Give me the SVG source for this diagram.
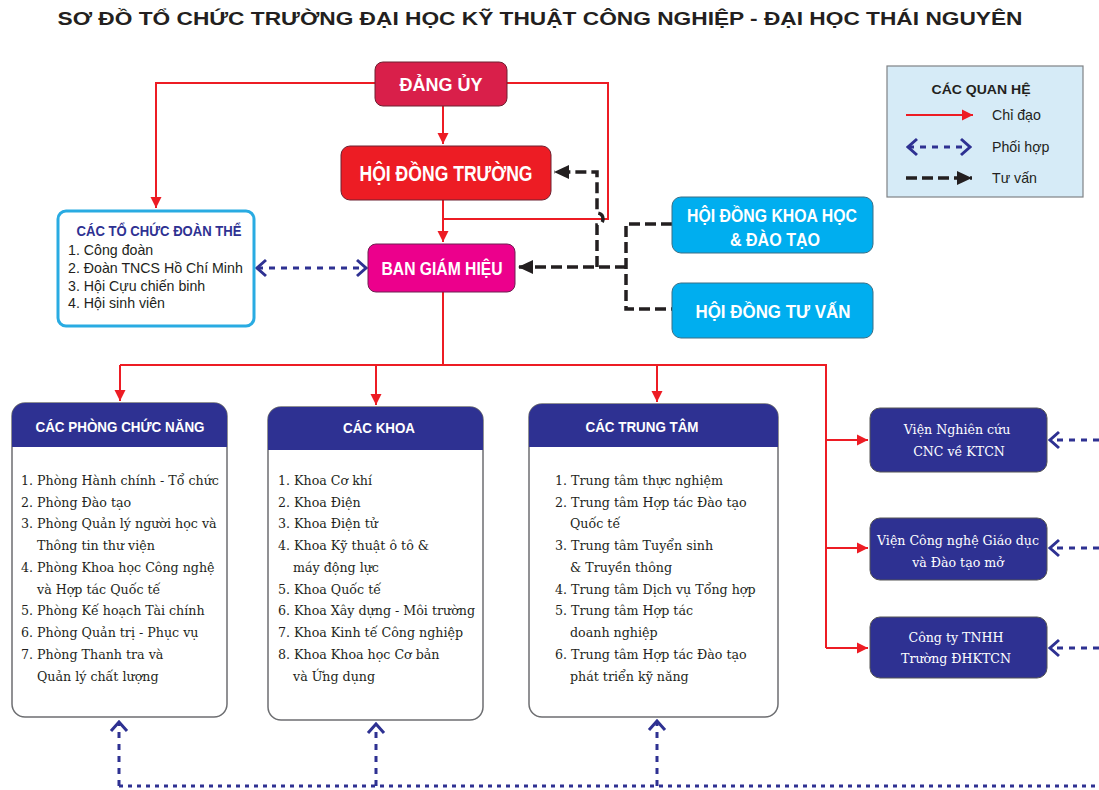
<svg xmlns="http://www.w3.org/2000/svg" width="1099" height="790" viewBox="0 0 1099 790">
<style>
.bg{fill:#ffffff}
.title{font-family:"Liberation Sans",Arial,sans-serif;font-weight:bold;font-size:19px;fill:#231f20}
.hb{font-family:"Liberation Sans",Arial,sans-serif;font-weight:bold;fill:#ffffff;text-anchor:middle}
.item{font-family:"DejaVu Serif",serif;font-size:12.65px;fill:#231f20}
.wit{font-family:"DejaVu Serif",serif;font-size:12.6px;fill:#ffffff;text-anchor:middle}
.sans{font-family:"Liberation Sans",Arial,sans-serif;font-size:14.2px;fill:#231f20}
.r{stroke:#ed1c24;stroke-width:2;fill:none}
.b{stroke:#2e3192;stroke-width:3;stroke-dasharray:6 6;fill:none}
.bd{stroke:#2e3192;stroke-width:3;stroke-dasharray:4 5;fill:none}
.k{stroke:#231f20;stroke-width:3.5;stroke-dasharray:11 5;fill:none}
.box{fill:#ffffff;stroke:#6d6e71;stroke-width:1.5}
.hdr{fill:#2e3192}
</style>
<defs>
<marker id="ar" markerWidth="12" markerHeight="12" refX="11" refY="6" orient="auto" markerUnits="userSpaceOnUse"><path d="M0,0.5 L11,6 L0,11.5 Z" fill="#ed1c24"/></marker>
<marker id="ak" markerWidth="16" markerHeight="16" refX="15" refY="8" orient="auto" markerUnits="userSpaceOnUse"><path d="M0,1 L15,8 L0,15 Z" fill="#231f20"/></marker>
<marker id="ab" markerWidth="14" markerHeight="20" refX="12" refY="10" orient="auto-start-reverse" markerUnits="userSpaceOnUse"><path d="M3,2 L12,10 L3,18" fill="none" stroke="#2e3192" stroke-width="3"/></marker>
</defs>
<rect class="bg" x="0" y="0" width="1099" height="790"/>
<text class="title" x="540" y="25" text-anchor="middle" textLength="965" lengthAdjust="spacingAndGlyphs">SƠ ĐỒ TỔ CHỨC TRƯỜNG ĐẠI HỌC KỸ THUẬT CÔNG NGHIỆP - ĐẠI HỌC THÁI NGUYÊN</text>

<g id="connectors">
<path class="r" d="M375,83 H156 V208" marker-end="url(#ar)"/>
<path class="r" d="M507,83 H608 V219 H443"/>
<path class="r" d="M443,106 V144" marker-end="url(#ar)"/>
<path class="r" d="M443,200 V242" marker-end="url(#ar)"/>
<path class="r" d="M443,292 V365"/>
<path class="r" d="M120,365 H826 V648"/>
<path class="r" d="M120,365 V401" marker-end="url(#ar)"/>
<path class="r" d="M376,365 V405" marker-end="url(#ar)"/>
<path class="r" d="M657,365 V402" marker-end="url(#ar)"/>
<path class="r" d="M826,440 H868" marker-end="url(#ar)"/>
<path class="r" d="M826,548 H868" marker-end="url(#ar)"/>
<path class="r" d="M826,648 H868" marker-end="url(#ar)"/>
<path class="k" d="M626,267 H518" marker-end="url(#ak)"/>
<path class="k" d="M597,267 V225 A6,6 0 0 0 597,213 V172 H554" marker-end="url(#ak)"/>
<path class="k" d="M672,224 H626 V309 H672"/>
<path class="b" d="M257,268 H366" marker-start="url(#ab)" marker-end="url(#ab)"/>
<path class="b" d="M1099,440 H1050" marker-end="url(#ab)"/>
<path class="b" d="M1099,548 H1050" marker-end="url(#ab)"/>
<path class="b" d="M1099,648 H1050" marker-end="url(#ab)"/>
<path class="bd" d="M119,786 H1099"/>
<path class="b" d="M119,786 V722" marker-end="url(#ab)"/>
<path class="b" d="M376,786 V724" marker-end="url(#ab)"/>
<path class="b" d="M657,786 V721" marker-end="url(#ab)"/>
</g>

<g id="dang-uy">
<rect x="375" y="62" width="132" height="44" rx="8" fill="#d91f4a" stroke="#6d2030" stroke-width="1"/>
<text class="hb" x="441" y="91" font-size="18">ĐẢNG ỦY</text>
</g>
<g id="hoi-dong-truong">
<rect x="341" y="146" width="210" height="54" rx="9" fill="#ed1c24" stroke="#6d2030" stroke-width="1"/>
<text class="hb" x="446" y="181" font-size="22" textLength="173" lengthAdjust="spacingAndGlyphs">HỘI ĐỒNG TRƯỜNG</text>
</g>
<g id="ban-giam-hieu">
<rect x="368" y="244" width="147" height="48" rx="8" fill="#ec008c" stroke="#6d2050" stroke-width="1"/>
<text class="hb" x="442" y="275" font-size="18" textLength="121" lengthAdjust="spacingAndGlyphs">BAN GIÁM HIỆU</text>
</g>
<g id="hd-khoa-hoc">
<rect x="672" y="197" width="201" height="56" rx="9" fill="#00aeef" stroke="#3a6f85" stroke-width="1"/>
<text class="hb" x="772" y="222" font-size="19" textLength="170" lengthAdjust="spacingAndGlyphs">HỘI ĐỒNG KHOA HỌC</text>
<text class="hb" x="775" y="246" font-size="19" textLength="90" lengthAdjust="spacingAndGlyphs">&amp; ĐÀO TẠO</text>
</g>
<g id="hd-tu-van">
<rect x="672" y="283" width="201" height="55" rx="9" fill="#00aeef" stroke="#3a6f85" stroke-width="1"/>
<text class="hb" x="773" y="318" font-size="19" textLength="155" lengthAdjust="spacingAndGlyphs">HỘI ĐỒNG TƯ VẤN</text>
</g>

<g id="legend">
<rect x="887" y="66" width="196" height="131" fill="#d6ebf7" stroke="#7f8285" stroke-width="1.2"/>
<text x="981" y="94" text-anchor="middle" font-family="Liberation Sans, Arial, sans-serif" font-weight="bold" font-size="13" fill="#231f20" textLength="99" lengthAdjust="spacingAndGlyphs">CÁC QUAN HỆ</text>
<path class="r" d="M906,115 H973" marker-end="url(#ar)"/>
<path class="b" d="M908,147 H970" marker-start="url(#ab)" marker-end="url(#ab)"/>
<path class="k" d="M906,178 H972" marker-end="url(#ak)"/>
<text class="sans" x="992" y="120" font-size="15">Chỉ đạo</text>
<text class="sans" x="992" y="152" font-size="15">Phối hợp</text>
<text class="sans" x="992" y="183" font-size="15">Tư vấn</text>
</g>

<g id="doan-the">
<rect x="58" y="211" width="196" height="115" rx="8" fill="#ffffff" stroke="#29abe2" stroke-width="3"/>
<text x="159" y="236" text-anchor="middle" font-family="Liberation Sans, Arial, sans-serif" font-weight="bold" font-size="14" fill="#2e3192" textLength="165" lengthAdjust="spacingAndGlyphs">CÁC TỔ CHỨC ĐOÀN THỂ</text>
<text class="sans" x="68" y="255">1. Công đoàn</text>
<text class="sans" x="68" y="273">2. Đoàn TNCS Hồ Chí Minh</text>
<text class="sans" x="68" y="291">3. Hội Cựu chiến binh</text>
<text class="sans" x="68" y="308">4. Hội sinh viên</text>
</g>

<g id="phong-chuc-nang">
<rect class="box" x="12" y="403" width="215" height="314" rx="13"/>
<path class="hdr" d="M12,447 V416 A13,13 0 0 1 25,403 H214 A13,13 0 0 1 227,416 V447 Z"/>
<text class="hb" x="120" y="432" font-size="15" textLength="169" lengthAdjust="spacingAndGlyphs">CÁC PHÒNG CHỨC NĂNG</text>
<text class="item">
<tspan x="21" y="485">1. Phòng Hành chính - Tổ chức</tspan>
<tspan x="21" y="507">2. Phòng Đào tạo</tspan>
<tspan x="21" y="528">3. Phòng Quản lý người học và</tspan>
<tspan x="37" y="550">Thông tin thư viện</tspan>
<tspan x="21" y="572">4. Phòng Khoa học Công nghệ</tspan>
<tspan x="37" y="594">và Hợp tác Quốc tế</tspan>
<tspan x="21" y="615">5. Phòng Kế hoạch Tài chính</tspan>
<tspan x="21" y="637">6. Phòng Quản trị - Phục vụ</tspan>
<tspan x="21" y="659">7. Phòng Thanh tra và</tspan>
<tspan x="37" y="681">Quản lý chất lượng</tspan>
</text>
</g>

<g id="cac-khoa">
<rect class="box" x="268" y="407" width="215" height="313" rx="13"/>
<path class="hdr" d="M268,450 V420 A13,13 0 0 1 281,407 H470 A13,13 0 0 1 483,420 V450 Z"/>
<text class="hb" x="379" y="433" font-size="15" textLength="72" lengthAdjust="spacingAndGlyphs">CÁC KHOA</text>
<text class="item">
<tspan x="278" y="485">1. Khoa Cơ khí</tspan>
<tspan x="278" y="507">2. Khoa Điện</tspan>
<tspan x="278" y="528">3. Khoa Điện tử</tspan>
<tspan x="278" y="550">4. Khoa Kỹ thuật ô tô &amp;</tspan>
<tspan x="293" y="572">máy động lực</tspan>
<tspan x="278" y="594">5. Khoa Quốc tế</tspan>
<tspan x="278" y="615">6. Khoa Xây dựng - Môi trường</tspan>
<tspan x="278" y="637">7. Khoa Kinh tế Công nghiệp</tspan>
<tspan x="278" y="659">8. Khoa Khoa học Cơ bản</tspan>
<tspan x="293" y="681">và Ứng dụng</tspan>
</text>
</g>

<g id="cac-trung-tam">
<rect class="box" x="529" y="404" width="249" height="313" rx="13"/>
<path class="hdr" d="M529,447 V417 A13,13 0 0 1 542,404 H765 A13,13 0 0 1 778,417 V447 Z"/>
<text class="hb" x="642" y="432" font-size="15" textLength="113" lengthAdjust="spacingAndGlyphs">CÁC TRUNG TÂM</text>
<text class="item">
<tspan x="555" y="485">1. Trung tâm thực nghiệm</tspan>
<tspan x="555" y="507">2. Trung tâm Hợp tác Đào tạo</tspan>
<tspan x="570" y="528">Quốc tế</tspan>
<tspan x="555" y="550">3. Trung tâm Tuyển sinh</tspan>
<tspan x="570" y="572">&amp; Truyền thông</tspan>
<tspan x="555" y="594">4. Trung tâm Dịch vụ Tổng hợp</tspan>
<tspan x="555" y="615">5. Trung tâm Hợp tác</tspan>
<tspan x="570" y="637">doanh nghiệp</tspan>
<tspan x="555" y="659">6. Trung tâm Hợp tác Đào tạo</tspan>
<tspan x="570" y="681">phát triển kỹ năng</tspan>
</text>
</g>

<g id="vien-nghien-cuu">
<rect x="870" y="408" width="177" height="64" rx="10" fill="#2e3192" stroke="#555" stroke-width="1"/>
<text class="wit"><tspan x="957" y="434">Viện Nghiên cứu</tspan><tspan x="959" y="456">CNC về KTCN</tspan></text>
</g>
<g id="vien-cong-nghe">
<rect x="870" y="518" width="177" height="62" rx="10" fill="#2e3192" stroke="#555" stroke-width="1"/>
<text class="wit"><tspan x="958" y="545">Viện Công nghệ Giáo dục</tspan><tspan x="958" y="567">và Đào tạo mở</tspan></text>
</g>
<g id="cong-ty">
<rect x="870" y="617" width="177" height="61" rx="10" fill="#2e3192" stroke="#555" stroke-width="1"/>
<text class="wit"><tspan x="956" y="642">Công ty TNHH</tspan><tspan x="956" y="663">Trường ĐHKTCN</tspan></text>
</g>
</svg>
